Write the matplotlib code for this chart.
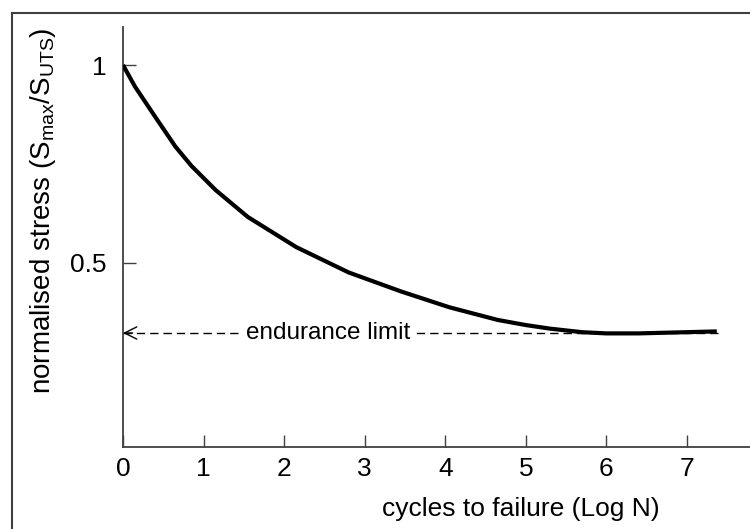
import matplotlib
matplotlib.use('Agg')
import matplotlib.pyplot as plt
from matplotlib.lines import Line2D

plt.rcParams['font.family'] = ['Liberation Sans', 'DejaVu Sans']
plt.rcParams['mathtext.fontset'] = 'custom'
plt.rcParams['mathtext.rm'] = 'Liberation Sans'

# S-N curve (log cycles vs normalised stress)
log_n = [0, 0.15, 0.4, 0.65, 0.85, 1.15, 1.55, 2.15, 2.8, 3.45, 4.05, 4.65,
         5.0, 5.3, 5.7, 6.0, 6.4, 7.37]
stress = [1.0, 0.945, 0.869, 0.794, 0.745, 0.684, 0.616, 0.540, 0.476, 0.428, 0.388, 0.356,
          0.343, 0.334, 0.325, 0.322, 0.322, 0.327]

endurance = 0.323
endurance_end = 7.38
x_ticks = [0, 1, 2, 3, 4, 5, 6, 7]
y_ticks = [0.5, 1]
y_tick_labels = ['0.5', '1']

W, H = 750, 529
fig = plt.figure(figsize=(W / 100, H / 100), dpi=100)
ax = fig.add_axes([123 / W, 1 - 447 / H, 1 - 123 / W, (447 - 27) / H])

axis_col = '#404040'

ax.plot(log_n, stress, color='black', lw=3, solid_capstyle='butt',
        solid_joinstyle='round', zorder=3)

# endurance limit: dashed line with an open arrow head at the axis
ax.plot([0, endurance_end], [endurance, endurance], color='black', lw=1,
        ls=(0, (6, 3.6)), zorder=2)
ax.annotate('', xy=(0, endurance), xytext=(0.12, endurance),
            arrowprops=dict(arrowstyle='->', lw=1, color='black',
                            mutation_scale=22, shrinkA=0, shrinkB=0))
ax.text(2.54, endurance, 'endurance limit', fontsize=17.5, ha='center', va='center',
        bbox=dict(facecolor='white', edgecolor='none', pad=1.5), zorder=2.5)

ax.set_xlim(0, (W - 123) / ((687 - 123) / 7))
ax.set_ylim(0.035, 1.096)
ax.set_xticks(x_ticks)
ax.set_yticks(y_ticks)
ax.set_yticklabels(y_tick_labels)
ax.tick_params(axis='both', direction='in', length=9, width=1, color=axis_col,
               labelsize=19, labelcolor='black')
ax.tick_params(axis='x', pad=7.5)
ax.tick_params(axis='y', pad=12)

for side in ['top', 'right']:
    ax.spines[side].set_visible(False)
for side in ['left', 'bottom']:
    ax.spines[side].set_color(axis_col)
    ax.spines[side].set_linewidth(1.3)

fig.text(43 / W, 1 - 211 / H,
         r'normalised stress (S$_{\mathregular{max}}$/S$_{\mathregular{UTS}}$)',
         rotation=90, ha='center', va='center', fontsize=20)
fig.text(521 / W, 1 - 509 / H, 'cycles to failure (Log N)',
         ha='center', va='center', fontsize=19)

# outer frame (only left and top edges remain in the crop)
fig.add_artist(Line2D([12 / W, 12 / W], [0, 1 - 13 / H], color=axis_col, lw=1.5))
fig.add_artist(Line2D([12 / W, 1], [1 - 13 / H, 1 - 13 / H], color=axis_col, lw=1.5))

fig.savefig('out.png', dpi=100, facecolor='white')
